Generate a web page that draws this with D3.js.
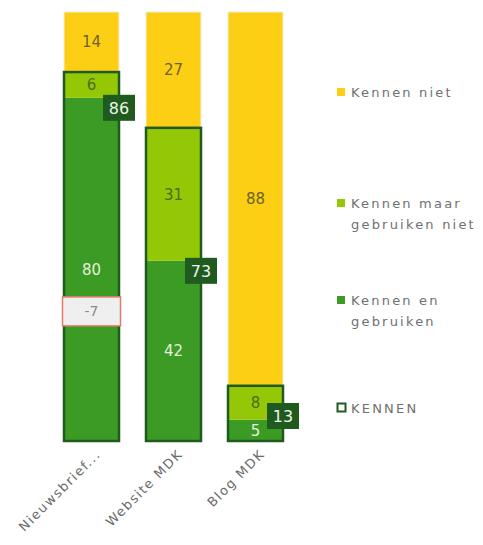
<!DOCTYPE html>
<html><head><meta charset="utf-8">
<script src="https://cdn.jsdelivr.net/npm/d3@7"></script>
<style>html,body{margin:0;padding:0;background:#fff;}svg{display:block;}</style>
</head><body>
<script>
const categories = ["Nieuwsbrief...", "Website MDK", "Blog MDK"];
const kennenNiet = [14, 27, 88];
const kennenMaarGebruikenNiet = [6, 31, 8];
const kennenEnGebruiken = [80, 42, 5];
const kennen = [86, 73, 13];
const verschil = [-7, null, null];
const legendLabels = [["Kennen niet"], ["Kennen maar", "gebruiken niet"], ["Kennen en", "gebruiken"], ["KENNEN"]];

const W = 483, H = 545;
const colors = { niet: "#fccf15", maar: "#94c806", en: "#3c9b24", dark: "#1f5a1f" };

const svg = d3.select("body").append("svg").attr("width", W).attr("height", H)
  .style("font-family", "'DejaVu Sans', Verdana, sans-serif");

const rows = categories.map((c, i) => ({ cat: c, en: kennenEnGebruiken[i], maar: kennenMaarGebruikenNiet[i], niet: kennenNiet[i] }));
const keys = ["en", "maar", "niet"];
const stacked = d3.stack().keys(keys).offset(d3.stackOffsetExpand)(rows);

const x = d3.scaleBand().domain(categories).range([50.5, 296.5]).paddingInner(27 / 82).paddingOuter(13.5 / 82);
const y = d3.scaleLinear().domain([0, 1]).range([441, 12]);

const textColor = { niet: "#6f6130", maar: "#4e6d12", en: "#e4f1dc" };

// segments
stacked.forEach(layer => {
  const g = svg.append("g");
  g.selectAll("rect").data(layer).join("rect")
    .attr("x", d => x(d.data.cat))
    .attr("width", x.bandwidth())
    .attr("y", d => y(d[1]))
    .attr("height", d => y(d[0]) - y(d[1]))
    .attr("fill", colors[layer.key])
    .attr("stroke", layer.key === "niet" ? "#f3eed8" : "none")
    .attr("stroke-width", 1);
});

// KENNEN outline
const known = stacked[1];
svg.append("g").selectAll("rect").data(known).join("rect")
  .attr("x", d => x(d.data.cat))
  .attr("width", x.bandwidth())
  .attr("y", d => y(d[1]))
  .attr("height", d => y(0) - y(d[1]))
  .attr("fill", "none")
  .attr("stroke", colors.dark)
  .attr("stroke-width", 2.5);

// segment labels
stacked.forEach(layer => {
  svg.append("g").selectAll("text").data(layer).join("text")
    .attr("x", d => x(d.data.cat) + x.bandwidth() / 2)
    .attr("y", d => (y(d[0]) + y(d[1])) / 2)
    .attr("dy", "0.36em")
    .attr("text-anchor", "middle")
    .attr("font-size", 15)
    .attr("fill", textColor[layer.key])
    .text(d => d.data[layer.key]);
});

// KENNEN labels
const kg = svg.append("g");
stacked[0].forEach((d, i) => {
  const cx = x(d.data.cat) + x.bandwidth();
  const top = Math.min(y(d[1]) - 3, y(0) - 38);
  kg.append("rect").attr("x", cx - 16).attr("y", top).attr("width", 32).attr("height", 26)
    .attr("fill", colors.dark);
  kg.append("text").attr("x", cx).attr("y", top + 13).attr("dy", "0.36em")
    .attr("text-anchor", "middle").attr("font-size", 16).attr("fill", "#eef5ea")
    .text(kennen[i]);
});

// difference label
stacked[0].forEach((d, i) => {
  if (verschil[i] == null) return;
  const cy = (y(d[0]) + y(d[1])) / 2 + 42;
  const bx = x(d.data.cat);
  svg.append("rect").attr("x", bx - 1.5).attr("y", cy - 14.5).attr("width", x.bandwidth() + 3).attr("height", 29)
    .attr("fill", "#efefef").attr("stroke", "#e27a6a").attr("stroke-width", 1.5);
  svg.append("text").attr("x", bx + x.bandwidth() / 2).attr("y", cy).attr("dy", "0.36em")
    .attr("text-anchor", "middle").attr("font-size", 14).attr("fill", "#8a8a8a")
    .text(verschil[i]);
});

// x axis labels
svg.append("g").selectAll("text").data(categories).join("text")
  .attr("transform", d => `translate(${x(d) + x.bandwidth() / 2 + 10},${455}) rotate(-45)`)
  .attr("text-anchor", "end")
  .attr("font-size", 13)
  .attr("letter-spacing", 1.5)
  .attr("fill", "#6a6a6a")
  .text(d => d);

// legend
const legendY = [92, 203, 300, 408];
const legendFill = [colors.niet, colors.maar, colors.en, "#fff"];
const lg = svg.append("g");
legendLabels.forEach((lines, i) => {
  const yy = legendY[i];
  if (i === 3) {
    lg.append("rect").attr("x", 337.5).attr("y", yy - 4.5).attr("width", 8).attr("height", 8)
      .attr("fill", "#fff").attr("stroke", colors.dark).attr("stroke-width", 2);
  } else {
    lg.append("rect").attr("x", 337).attr("y", yy - 4).attr("width", 8).attr("height", 8).attr("fill", legendFill[i]);
  }
  const t = lg.append("text").attr("x", 351).attr("y", yy).attr("dy", "0.36em")
    .attr("font-size", 13).attr("letter-spacing", 2.2).attr("fill", "#707070");
  lines.forEach((l, j) => t.append("tspan").attr("x", 351).attr("dy", j === 0 ? "0.36em" : "21").text(l));
});
</script>
</body></html>
